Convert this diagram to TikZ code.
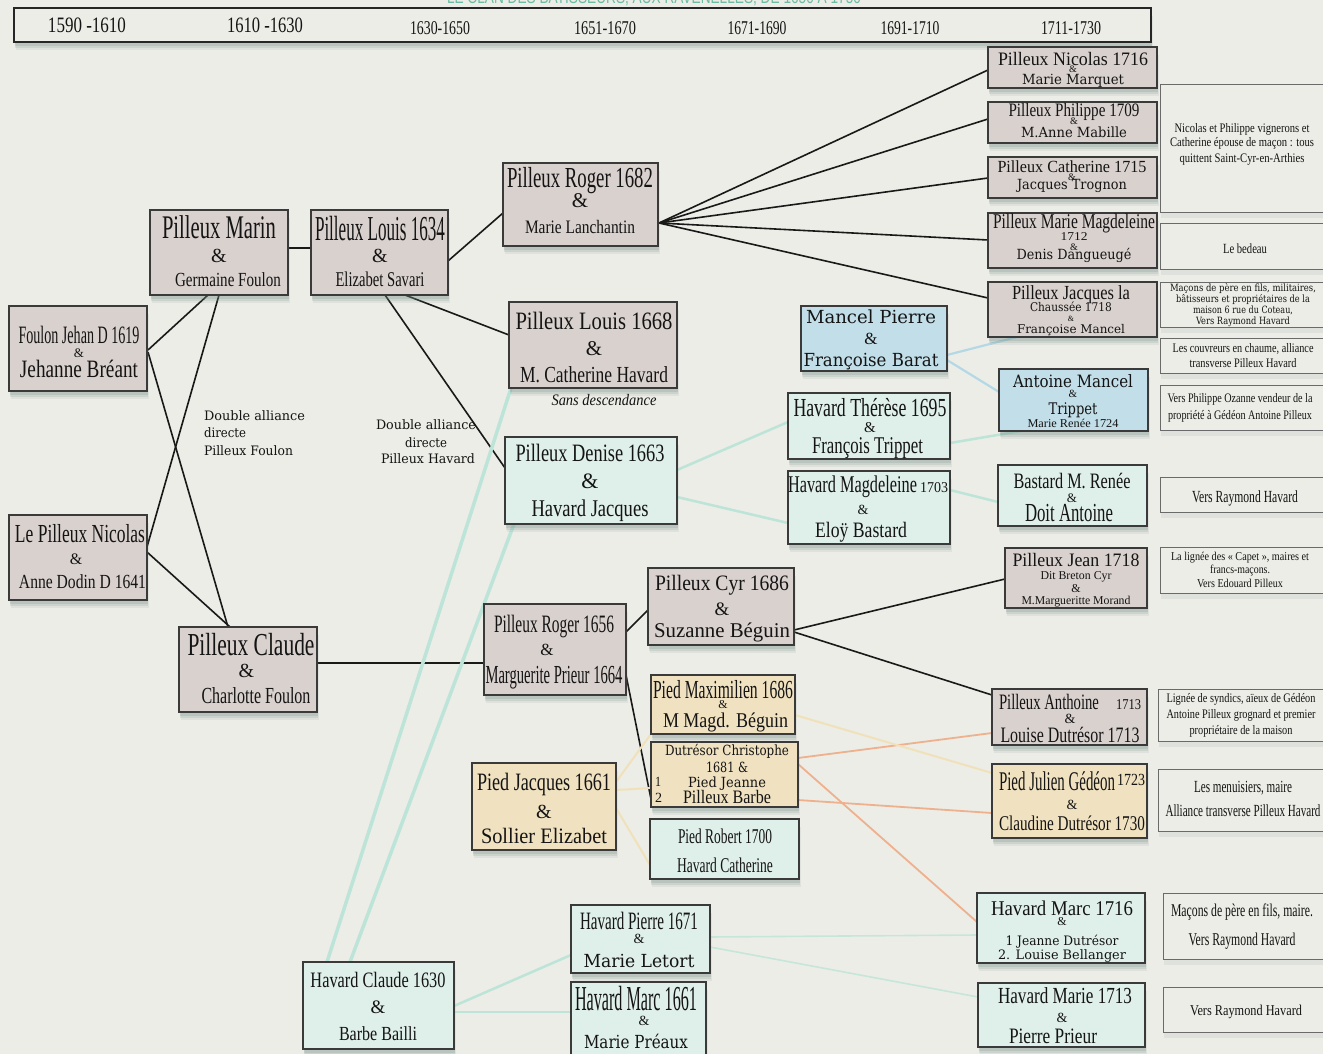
\documentclass[tikz,border=0pt]{standalone}
\usepackage{fontspec}
\usepackage{graphicx}
\setmainfont{Liberation Serif}
\newfontfamily\dejav{DejaVu Serif}
\newfontfamily\lsans{Liberation Sans}
\usetikzlibrary{calc,shadows}
\definecolor{bgc}{HTML}{ECEDE6}
\definecolor{pinkf}{HTML}{D9D1CE}
\definecolor{tealf}{HTML}{DFEFEA}
\definecolor{bluef}{HTML}{C2DEE8}
\definecolor{beigef}{HTML}{F0E2C0}
\definecolor{bordc}{HTML}{3A3A3A}
\definecolor{notec}{HTML}{6A6A6A}
\definecolor{shadowc}{HTML}{6F8A84}
\definecolor{tealL}{HTML}{BDE4D9}
\definecolor{blueL}{HTML}{B5D8E6}
\definecolor{orangeL}{HTML}{EFB08E}
\definecolor{paleL}{HTML}{F1E1BA}
\definecolor{titlec}{HTML}{6DBBA3}
\pgfdeclarelayer{back}\pgfdeclarelayer{lines}
\pgfsetlayers{back,lines,main}
% text helpers
\newcommand\Tw[3]{\resizebox{#2pt}{\height}{\fontsize{#1pt}{#1pt}\selectfont #3}}
\newcommand\Td[3]{\resizebox{#2pt}{\height}{\dejav\fontsize{#1pt}{#1pt}\selectfont #3}}
\newcommand\Ti[3]{\resizebox{#2pt}{\height}{\itshape\fontsize{#1pt}{#1pt}\selectfont #3}}
\newcommand\Am[1]{{\fontsize{#1pt}{#1pt}\selectfont\&}}
\newcommand\Stk[1]{\vtop{\baselineskip=0pt\lineskiplimit=-\maxdimen\lineskip=0pt\halign{\hfil##\hfil\cr#1\crcr}}}
\newcommand\StkL[1]{\vtop{\baselineskip=0pt\lineskiplimit=-\maxdimen\lineskip=0pt\halign{##\hfil\cr#1\crcr}}}
\newcommand\Nl[1]{\cr\noalign{\vskip#1pt}}
\newcommand\Bx[6]{\node[#1, minimum width={(#5-#3)*1pt}, minimum height={(#6-#4)*1pt}, anchor=north west] (#2) at (#3,#4) {};}
\newcommand\Tx[4]{\node[tx] (#1) at (#2,#3) {\Stk{#4}};}
\tikzset{
  sh/.style={drop shadow={shadow xshift=1.5pt,shadow yshift=-8pt,opacity=.10,fill=shadowc},
             drop shadow={shadow xshift=1pt,shadow yshift=-6pt,opacity=.16,fill=shadowc},
             drop shadow={shadow xshift=0.5pt,shadow yshift=-4pt,opacity=.2,fill=shadowc}},
  bx/.style={sh, rectangle, draw=bordc, line width=1.5pt, inner sep=0pt, outer sep=0pt},
  pbox/.style={bx, fill=pinkf},
  tbox/.style={bx, fill=tealf},
  ubox/.style={bx, fill=bluef},
  ybox/.style={bx, fill=beigef},
  nbox/.style={rectangle, draw=notec, line width=1pt, fill=bgc, inner sep=0pt, outer sep=0pt,
             drop shadow={shadow xshift=1pt,shadow yshift=-6pt,opacity=.10,fill=shadowc}},
  tx/.style={anchor=base, inner sep=0pt, outer sep=0pt, text=black!92},
  bl/.style={draw=black!90, line width=1.6pt},
  blk/.style={draw=black!90, line width=2.3pt},
  tl/.style={draw=tealL, line width=2.5pt},
  tll/.style={draw=tealL, line width=3.5pt},
  tlf/.style={draw=tealL!80!bgc, line width=1.6pt},
  ul/.style={draw=blueL, line width=2.2pt},
  ol/.style={draw=orangeL, line width=1.8pt},
  pl/.style={draw=paleL, line width=2pt},
}
\begin{document}
\begin{tikzpicture}[x=1pt,y=-1pt]
\begin{pgfonlayer}{back}
\fill[bgc] (0,0) rectangle (1323,1054);
\end{pgfonlayer}
\useasboundingbox (0,0) rectangle (1323,1054);

% title (cut by the page top)
\node[tx, text=titlec] (title) at (654,4) {\resizebox{414pt}{\height}{\lsans\fontsize{18pt}{18pt}\selectfont LE CLAN DES BATISSEURS, AUX RAVENELLES, DE 1650 A 1750}};

% timeline bar
\node[sh, rectangle, draw=black!85, line width=2pt, fill=bgc, inner sep=0pt, outer sep=0pt,
      minimum width=1137pt, minimum height=34pt, anchor=north west] (bar) at (14,8) {};
\node[tx] (y1) at (87,33) {\Tw{22}{78}{1590 -1610}};
\node[tx] (y2) at (265,33) {\Tw{22}{76}{1610 -1630}};
\node[tx] (y3) at (440,35) {\Tw{19.5}{60}{1630-1650}};
\node[tx] (y4) at (605,35) {\Tw{19.5}{62}{1651-1670}};
\node[tx] (y5) at (757,35) {\Tw{19.5}{59}{1671-1690}};
\node[tx] (y6) at (910,35) {\Tw{19.5}{59}{1691-1710}};
\node[tx] (y7) at (1071,35) {\Tw{19.5}{60}{1711-1730}};

% ---------- boxes ----------
\Bx{pbox}{marin}{150}{210}{288}{295}
\Tx{marin-t}{219}{238}{\Tw{33}{114}{Pilleux Marin}\Nl{24}\Am{20}\Nl{24}\kern18pt\Tw{20}{106}{Germaine Foulon}}

\Bx{pbox}{louis34}{311}{210}{448}{295}
\Tx{louis34-t}{380}{240}{\Tw{35}{130}{Pilleux Louis 1634}\Nl{22}\Am{20}\Nl{25}\Tw{21}{89}{Elizabet Savari}}

\Bx{pbox}{jehan}{9}{306}{147}{391}
\Tx{jehan-t}{79}{343}{\Tw{25}{121}{Foulon Jehan D 1619}\Nl{14}\Am{13}\Nl{20}\Tw{25}{118}{Jehanne Bréant}}

\Bx{pbox}{nicolas}{9}{515}{147}{600}
\Tx{nicolas-t}{80}{542}{\Tw{26}{130}{Le Pilleux Nicolas}\Nl{22}\Am{16}\kern8pt\Nl{24}\kern5pt\Tw{20}{127}{Anne Dodin D 1641}}

\Bx{pbox}{claude}{179}{627}{317}{712}
\Tx{claude-t}{251}{655}{\Tw{32}{127}{Pilleux Claude}\Nl{22}\Am{20}\kern9pt\Nl{26}\kern10pt\Tw{23}{109}{Charlotte Foulon}}

\Bx{pbox}{roger82}{503}{163}{658}{246}
\Tx{roger82-t}{580}{188}{\Tw{29}{146}{Pilleux Roger 1682}\Nl{20}\Am{21}\Nl{26}\Tw{19}{110}{Marie Lanchantin}}

\Bx{pbox}{louis68}{509}{302}{677}{388}
\Tx{louis68-t}{594}{329}{\Tw{25}{157}{Pilleux Louis 1668}\Nl{26}\Am{21}\Nl{27}\Tw{23}{148}{M. Catherine Havard}}
\node[tx] (sansdesc) at (604,405) {\Ti{16}{105}{Sans descendance}};

\Bx{tbox}{denise}{505}{437}{677}{524}
\Tx{denise-t}{590}{461}{\Tw{25}{149}{Pilleux Denise 1663}\Nl{27}\Am{22}\Nl{28}\Tw{24}{117}{Havard Jacques}}

\Bx{pbox}{roger56}{484}{604}{626}{695}
\Tx{roger56-t}{554}{632}{\Tw{25}{120}{Pilleux Roger 1656}\Nl{23}\Am{17}\kern14pt\Nl{28}\Tw{26}{137}{Marguerite Prieur 1664}}

\Bx{pbox}{cyr}{648}{568}{794}{645}
\Tx{cyr-t}{722}{590}{\Tw{22}{134}{Pilleux Cyr 1686}\Nl{25}\Am{19}\Nl{22}\Tw{21}{136}{Suzanne Béguin}}

\Bx{ybox}{maxim}{651}{675}{795}{734}
\Tx{maxim-t}{723}{698}{\Tw{26}{140}{Pied Maximilien 1686}\Nl{10}\Am{12}\Nl{19}\kern5pt\Tw{21}{125}{M Magd. Béguin}}

\Bx{ybox}{dutresor}{651}{742}{798}{807}
\Tx{dutresor-t}{727}{755}{\Td{14}{124}{Dutrésor Christophe}\Nl{17}\Td{14}{42}{1681 \&}\Nl{15}\Td{14}{78}{Pied Jeanne}\Nl{16}\Tw{19}{88}{Pilleux Barbe}}
\node[tx, anchor=base west] (dutresor-n) at (655,786) {\StkL{\Tw{14}{6}{1}\Nl{16}\Tw{14}{7}{2}}};

\Bx{ybox}{jacques61}{472}{763}{616}{850}
\Tx{jacques61-t}{544}{790}{\Tw{25}{134}{Pied Jacques 1661}\Nl{28}\Am{20}\Nl{25}\Tw{22}{126}{Sollier Elizabet}}

\Bx{tbox}{robert}{650}{819}{799}{879}
\Tx{robert-t}{725}{843}{\Tw{21}{94}{Pied Robert 1700}\Nl{29}\Tw{21}{96}{Havard Catherine}}

\Bx{ubox}{mancelp}{801}{306}{947}{371}
\Tx{mancelp-t}{871}{323}{\Td{18}{130}{Mancel Pierre}\Nl{21}\Am{17}\Nl{22}\Td{18}{135}{Françoise Barat}}

\Bx{tbox}{therese}{788}{393}{950}{459}
\Tx{therese-t}{870}{416}{\Tw{26}{153}{Havard Thérèse 1695}\Nl{16}\Am{15}\Nl{21}\kern-5pt\Tw{24}{111}{François Trippet}}

\Bx{tbox}{magd03}{788}{471}{950}{544}
\Tx{magd03-t}{868}{492}{\Tw{24}{129}{Havard Magdeleine}\kern3pt\Tw{15}{28}{1703}\Nl{22}\Am{14}\kern10pt\Nl{23}\Tw{22}{92}{Eloÿ Bastard}\kern14pt}

\Bx{ubox}{antoinem}{999}{369}{1148}{431}
\Tx{antoinem-t}{1073}{387}{\Td{17}{120}{Antoine Mancel}\Nl{10}\Am{11}\Nl{17}\Td{16}{49}{Trippet}\Nl{13}\Tw{12}{91}{Marie Renée 1724}}

\Bx{tbox}{bastard}{998}{465}{1147}{526}
\Tx{bastard-t}{1072}{488}{\Tw{22}{117}{Bastard M. Renée}\Nl{14}\Am{13}\Nl{19}\Tw{26}{88}{Doit Antoine}\kern6pt}

\Bx{pbox}{nic16}{988}{47}{1157}{88}
\Tx{nic16-t}{1073}{66}{\Tw{19}{150}{Pilleux Nicolas 1716}\Nl{7}\Am{10}\Nl{12}\Td{14}{102}{Marie Marquet}}

\Bx{pbox}{phil09}{988}{102}{1157}{143}
\Tx{phil09-t}{1074}{117}{\Tw{19}{131}{Pilleux Philippe 1709}\Nl{8}\Am{10}\Nl{13}\Td{14}{106}{M.Anne Mabille}}

\Bx{pbox}{cath15}{988}{157}{1157}{198}
\Tx{cath15-t}{1072}{173}{\Tw{17}{149}{Pilleux Catherine 1715}\Nl{7}\Am{10}\Nl{10}\Td{14}{110}{Jacques Trognon}}

\Bx{pbox}{mmagd}{988}{213}{1157}{268}
\Tx{mmagd-t}{1074}{229}{\Tw{21}{162}{Pilleux Marie Magdeleine}\Nl{12}\Tw{12}{27}{1712}\Nl{9}\Am{10}\Nl{9}\Td{14}{115}{Denis Dangueugé}}

\Bx{pbox}{jacq18}{988}{282}{1157}{337}
\Tx{jacq18-t}{1071}{299}{\Tw{20}{118}{Pilleux Jacques la}\Nl{12}\Td{12}{82}{Chaussée 1718}\Nl{10}\Am{8}\Nl{12}\Td{12}{108}{Françoise Mancel}}

\Bx{pbox}{jean18}{1005}{548}{1147}{608}
\Tx{jean18-t}{1076}{566}{\Tw{19}{127}{Pilleux Jean 1718}\Nl{13}\Tw{12}{71}{Dit Breton Cyr}\Nl{13}\Am{12}\Nl{12}\Tw{12}{109}{M.Margueritte Morand}}

\Bx{pbox}{anthoine}{992}{689}{1147}{745}
\Tx{anthoine-t}{1070}{709}{\Tw{22}{100}{Pilleux Anthoine}\kern17pt\Tw{15}{25}{1713}\Nl{14}\Am{14}\Nl{19}\Tw{22}{139}{Louise Dutrésor 1713}}

\Bx{ybox}{julien}{992}{764}{1147}{838}
\Tx{julien-t}{1072}{790}{\Tw{27}{116}{Pied Julien Gédéon}\kern2pt\raisebox{5pt}{\Tw{17}{28}{1723}}\Nl{19}\Am{14}\Nl{21}\Tw{21}{146}{Claudine Dutrésor 1730}}

\Bx{tbox}{marc16}{977}{893}{1145}{963}
\Tx{marc16-t}{1062}{915}{\Tw{21}{142}{Havard Marc 1716}\Nl{10}\Am{12}\Nl{20}\Td{13}{113}{1 Jeanne Dutrésor}\Nl{14}\Td{13}{128}{2. Louise Bellanger}}

\Bx{tbox}{marie13}{978}{983}{1145}{1047}
\Tx{marie13-t}{1065}{1003}{\Tw{23}{134}{Havard Marie 1713}\Nl{19}\Am{14}\kern6pt\Nl{21}\Tw{22}{88}{Pierre Prieur}\kern24pt}

\Bx{tbox}{pierre71}{571}{905}{710}{973}
\Tx{pierre71-t}{639}{929}{\Tw{25}{118}{Havard Pierre 1671}\Nl{14}\Am{14}\Nl{24}\Td{18}{111}{Marie Letort}}

\Bx{tbox}{marc61}{571}{982}{706}{1064}
\Tx{marc61-t}{636}{1010}{\Tw{35}{122}{Havard Marc 1661}\Nl{15}\Am{14}\kern-16pt\Nl{23}\Td{18}{104}{Marie Préaux}}

\Bx{tbox}{havclaude}{303}{962}{454}{1049}
\Tx{havclaude-t}{378}{987}{\Tw{22}{135}{Havard Claude 1630}\Nl{26}\Am{19}\Nl{27}\Tw{20}{78}{Barbe Bailli}}

% ---------- note boxes ----------
\Bx{nbox}{n1}{1160}{85}{1340}{212}
\Tx{n1-t}{1242}{132}{\Tw{13}{135}{Nicolas et Philippe vignerons et}\Nl{15}\Tw{13}{144}{Catherine épouse de maçon : tous}\Nl{16}\Tw{13}{125}{quittent Saint-Cyr-en-Arthies}}
\Bx{nbox}{n2}{1160}{223}{1340}{269}
\Tx{n2-t}{1245}{253}{\Tw{14}{44}{Le bedeau}}
\Bx{nbox}{n3}{1160}{282}{1340}{327}
\Tx{n3-t}{1243}{291}{\Td{10}{146}{Maçons de père en fils, militaires,}\Nl{11}\Td{10}{134}{bâtisseurs et propriétaires de la}\Nl{11}\Td{10}{100}{maison 6 rue du Coteau,}\Nl{11}\Td{10}{94}{Vers Raymond Havard}}
\Bx{nbox}{n4}{1160}{338}{1340}{373}
\Tx{n4-t}{1243}{352}{\Tw{13}{141}{Les couvreurs en chaume, alliance}\Nl{15}\Tw{13}{107}{transverse Pilleux Havard}}
\Bx{nbox}{n5}{1160}{385}{1340}{430}
\Tx{n5-t}{1240}{402}{\Tw{13}{145}{Vers Philippe Ozanne vendeur de la}\Nl{17}\Tw{13}{144}{propriété à Gédéon Antoine Pilleux}}
\Bx{nbox}{n6}{1160}{477}{1340}{512}
\Tx{n6-t}{1245}{502}{\Tw{17}{106}{Vers Raymond Havard}}
\Bx{nbox}{n7}{1160}{547}{1340}{593}
\Tx{n7-t}{1240}{560}{\Tw{12}{138}{La lignée des « Capet », maires et}\Nl{13}\Tw{12}{60}{francs-maçons.}\Nl{14}\Tw{12}{86}{Vers Edouard Pilleux}}
\Bx{nbox}{n8}{1158}{689}{1340}{741}
\Tx{n8-t}{1241}{702}{\Tw{13}{149}{Lignée de syndics, aïeux de Gédéon}\Nl{16}\Tw{13}{149}{Antoine Pilleux grognard et premier}\Nl{16}\Tw{13}{103}{propriétaire de la maison}}
\Bx{nbox}{n9}{1158}{769}{1340}{831}
\Tx{n9-t}{1243}{792}{\Tw{17}{98}{Les menuisiers, maire}\Nl{24}\Tw{17}{155}{Alliance transverse Pilleux Havard}}
\Bx{nbox}{n10}{1163}{893}{1340}{959}
\Tx{n10-t}{1242}{916}{\Tw{18}{142}{Maçons de père en fils, maire.}\Nl{29}\Tw{18}{107}{Vers Raymond Havard}}
\Bx{nbox}{n11}{1163}{987}{1340}{1032}
\Tx{n11-t}{1246}{1015}{\Tw{15}{112}{Vers Raymond Havard}}

% free texts
\node[tx, anchor=base west] (dbl1) at (204,420) {\StkL{\Td{13}{101}{Double alliance}\Nl{17}\Td{13}{42}{directe}\Nl{18}\Td{13}{89}{Pilleux Foulon}}};
\node[tx] (dbl2) at (426,429) {\Stk{\Td{13}{100}{Double alliance}\Nl{18}\Td{13}{42}{directe}\Nl{16}\kern4pt\Td{13}{94}{Pilleux Havard}}};

% ---------- connectors ----------
\begin{pgfonlayer}{lines}
% black
\draw[blk] ($(marin.north west)+(138,38)$) -- ($(louis34.north west)+(0,38)$);
\draw[bl] ($(jehan.north west)+(139,44)$) -- ($(marin.north west)+(58,85)$);
\draw[bl] ($(jehan.north west)+(139,46)$) -- ($(claude.north west)+(49,0)$);
\draw[bl] ($(nicolas.north west)+(138,32)$) -- ($(marin.north west)+(69,85)$);
\draw[bl] ($(nicolas.north west)+(138,37)$) -- ($(claude.north west)+(51,0)$);
\draw[blk] ($(claude.north west)+(138,36)$) -- ($(roger56.north west)+(0,59)$);
\draw[bl] ($(louis34.north west)+(137,51)$) -- ($(roger82.north west)+(0,50)$);
\draw[bl] ($(louis34.north west)+(94,85)$) -- ($(louis68.north west)+(0,33)$);
\draw[bl] ($(louis34.north west)+(74,85)$) -- ($(denise.north west)+(0,31)$);
\coordinate (fan) at ($(roger82.north west)+(156,60)$);
\draw[bl] (fan) -- ($(nic16.north west)+(0,23)$);
\draw[bl] (fan) -- ($(phil09.north west)+(0,17)$);
\draw[bl] (fan) -- ($(cath15.north west)+(0,21)$);
\draw[bl] (fan) -- ($(mmagd.north west)+(0,27)$);
\draw[bl] (fan) -- ($(jacq18.north west)+(0,16)$);
\draw[bl] ($(roger56.north west)+(142,28)$) -- ($(cyr.north west)+(0,42)$);
\draw[bl] ($(roger56.north west)+(142,71)$) -- ($(dutresor.north west)+(0,57)$);
\draw[bl] ($(cyr.north west)+(146,62)$) -- ($(jean18.north west)+(0,31)$);
\draw[bl] ($(cyr.north west)+(146,64)$) -- ($(anthoine.north west)+(0,6)$);
% teal
\draw[tll] ($(havclaude.north west)+(24,0)$) -- ($(louis68.north west)+(2,86)$);
\draw[tll] ($(havclaude.north west)+(47,0)$) -- ($(denise.north west)+(9,87)$);
\draw[tl] ($(denise.north west)+(172,33)$) -- ($(therese.north west)+(0,29)$);
\draw[tl] ($(denise.north west)+(172,60)$) -- ($(magd03.north west)+(0,52)$);
\draw[tl] ($(therese.north west)+(162,50)$) -- ($(antoinem.north west)+(22,62)$);
\draw[tl] ($(magd03.north west)+(162,19)$) -- ($(bastard.north west)+(0,37)$);
\draw[tl] ($(havclaude.north west)+(151,44)$) -- ($(pierre71.north west)+(0,50)$);
\draw[tl] ($(havclaude.north west)+(151,50)$) -- ($(marc61.north west)+(0,30)$);
\draw[tlf] ($(pierre71.north west)+(139,32)$) -- ($(marc16.north west)+(0,42)$);
\draw[tlf] ($(pierre71.north west)+(139,42)$) -- ($(marie13.north west)+(0,14)$);
% blue
\draw[ul] ($(mancelp.north west)+(146,49)$) -- ($(jacq18.north west)+(29,55)$);
\draw[ul] ($(mancelp.north west)+(146,54)$) -- ($(antoinem.north west)+(0,23)$);
% orange
\draw[ol] ($(dutresor.north west)+(147,16)$) -- ($(anthoine.north west)+(0,44)$);
\draw[ol] ($(dutresor.north west)+(147,22)$) -- ($(marc16.north west)+(0,29)$);
\draw[ol] ($(dutresor.north west)+(147,58)$) -- ($(julien.north west)+(0,49)$);
% pale
\draw[pl] ($(maxim.north west)+(144,40)$) -- ($(julien.north west)+(0,9)$);
\draw[pl] ($(jacques61.north west)+(144,19)$) -- ($(maxim.north west)+(0,59)$);
\draw[pl] ($(jacques61.north west)+(144,27)$) -- ($(dutresor.north west)+(0,46)$);
\draw[pl] ($(jacques61.north west)+(144,45)$) -- ($(robert.north west)+(0,46)$);
\end{pgfonlayer}
\end{tikzpicture}
\end{document}
